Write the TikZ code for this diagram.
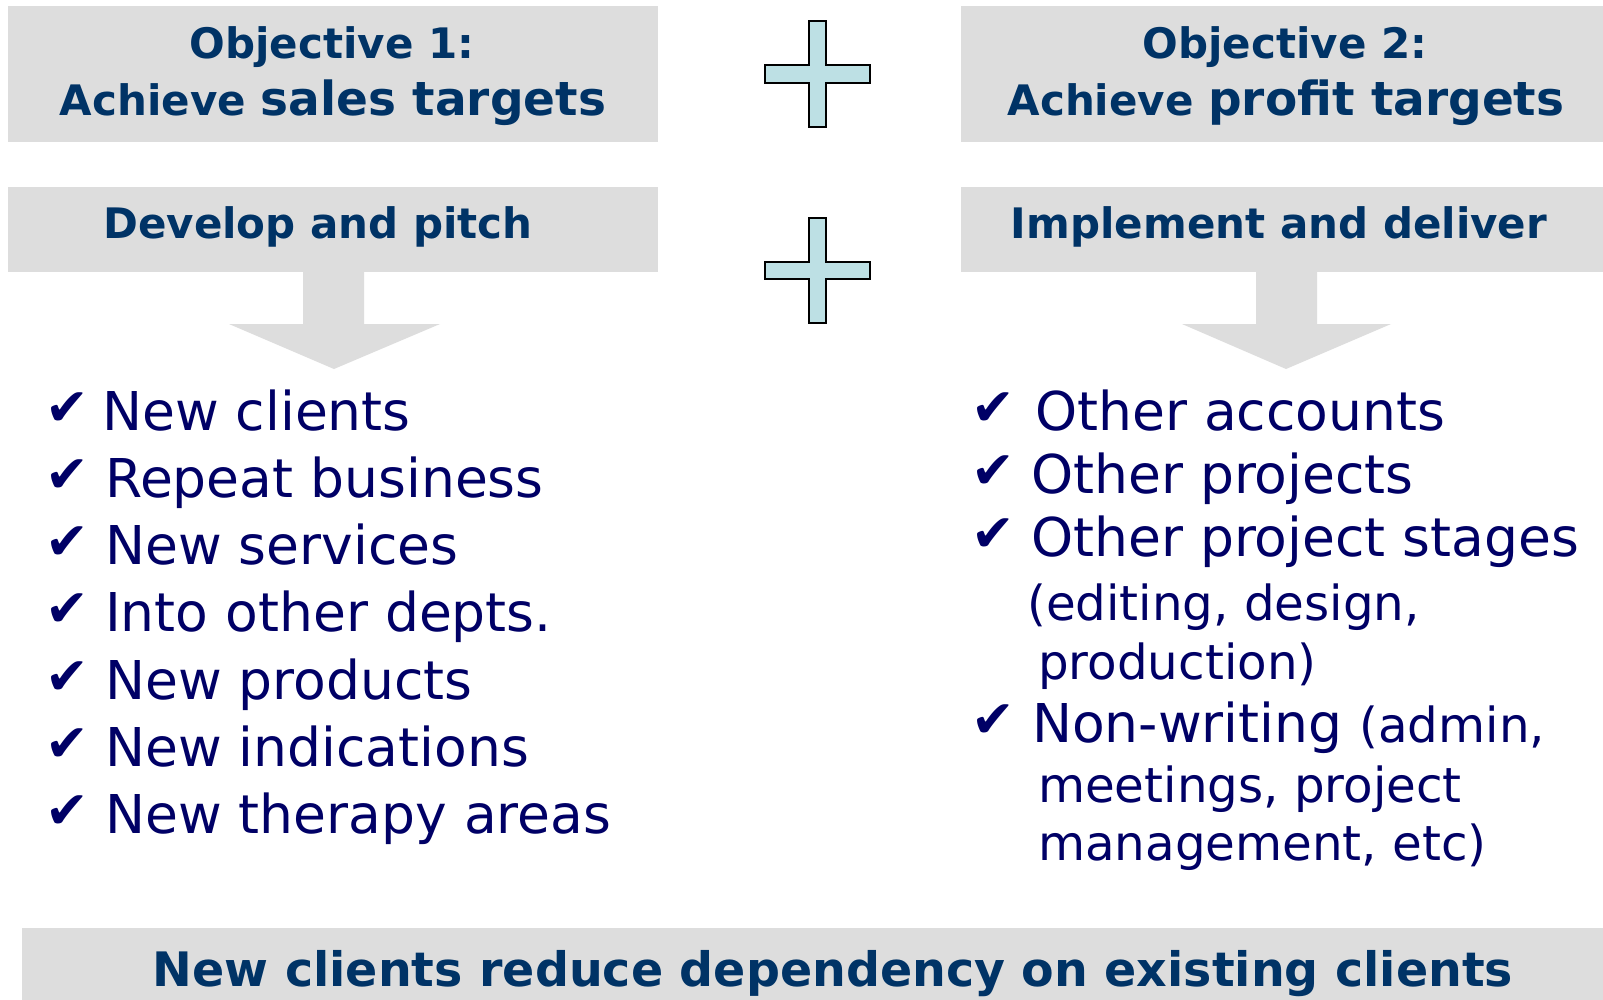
\documentclass[tikz,border=0pt]{standalone}
\usepackage{fontspec}
\setmainfont{DejaVu Sans}
\definecolor{boxgray}{RGB}{221,221,221}
\definecolor{titleblue}{RGB}{0,51,102}
\definecolor{listblue}{RGB}{0,0,102}
\definecolor{plusfill}{RGB}{189,224,228}
\tikzset{
  graybox/.style={fill=boxgray,draw=none},
  ttl/.style={font=\bfseries\fontsize{42}{50}\selectfont,text=titleblue,inner sep=0pt,anchor=base},
  item/.style={font=\fontsize{53.5}{62}\selectfont,text=listblue,inner sep=0pt,anchor=base west},
  sub/.style={font=\fontsize{48.3}{56}\selectfont,text=listblue,inner sep=0pt,anchor=base west},
  tick/.style={font=\fontsize{52}{60}\selectfont,text=listblue,inner sep=0pt,anchor=base west},
  plusshape/.style={fill=plusfill,draw=black,line width=1.6pt,line join=miter},
  arrowshape/.style={fill=boxgray,draw=none}
}
\newcommand{\bigpart}[1]{{\fontsize{47}{56}\selectfont #1}}
\newcommand{\smallpart}[1]{{\fontsize{48.3}{56}\selectfont #1}}
\begin{document}
\begin{tikzpicture}[x=1pt,y=-1pt]
\useasboundingbox (0,0) rectangle (1603,999);
\fill[white] (0,0) rectangle (1603,999);
% boxes
\node[graybox,minimum width=650pt,minimum height=136pt,inner sep=0pt] (b1) at (333,74) {};
\node[graybox,minimum width=680pt,minimum height=136pt,inner sep=0pt] (b2) at (1301,74) {};
\node[graybox,minimum width=650pt,minimum height=85pt,inner sep=0pt] (b3) at (333,229.5) {};
\node[graybox,minimum width=680pt,minimum height=85pt,inner sep=0pt] (b4) at (1301,229.5) {};
\node[graybox,minimum width=1622pt,minimum height=72pt,inner sep=0pt,anchor=north west] (b5) at (22,928) {};
% titles
\node[ttl] (o1a) at (332,58) {Objective 1:};
\node[ttl] (o1b) at (333,115) {Achieve \bigpart{sales targets}};
\node[ttl] (o2a) at (1285,58) {Objective 2:};
\node[ttl] (o2b) at (1286,115) {Achieve \bigpart{profit targets}};
\node[ttl] (dp) at (318,238) {Develop and pitch};
\node[ttl] (id) at (1279,238) {Implement and deliver};
\node[ttl,font=\bfseries\fontsize{47.5}{56}\selectfont] (bot) at (833,986) {New clients reduce dependency on existing clients};
% plus signs
\draw[plusshape] (809,21) -- (826,21) -- (826,65) -- (870,65) -- (870,83) -- (826,83) -- (826,127) -- (809,127) -- (809,83) -- (765,83) -- (765,65) -- (809,65) -- cycle;
\draw[plusshape] (809,218) -- (826,218) -- (826,262) -- (870,262) -- (870,279) -- (826,279) -- (826,323) -- (809,323) -- (809,279) -- (765,279) -- (765,262) -- (809,262) -- cycle;
% down arrows
\fill[arrowshape] (303,272) -- (364,272) -- (364,324) -- (440,324) -- (334,369) -- (229,324) -- (303,324) -- cycle;
\fill[arrowshape] (1256,272) -- (1317,272) -- (1317,324) -- (1391,324) -- (1286,369) -- (1182,324) -- (1256,324) -- cycle;
% left list
\node[tick] (lt1) at (45,425) {✔};
\node[item] (l1) at (102,430) {New clients};
\node[tick] (lt2) at (45,492) {✔};
\node[item] (l2) at (105,497) {Repeat business};
\node[tick] (lt3) at (45,559) {✔};
\node[item] (l3) at (105,564) {New services};
\node[tick] (lt4) at (45,626) {✔};
\node[item] (l4) at (105,631) {Into other depts.};
\node[tick] (lt5) at (45,694) {✔};
\node[item] (l5) at (105,699) {New products};
\node[tick] (lt6) at (45,761) {✔};
\node[item] (l6) at (105,766) {New indications};
\node[tick] (lt7) at (45,828) {✔};
\node[item] (l7) at (105,833) {New therapy areas};
% right list
\node[tick] (rt1) at (971,425) {✔};
\node[item] (r1) at (1035,430) {Other accounts};
\node[tick] (rt2) at (971,488) {✔};
\node[item] (r2) at (1031,493) {Other projects};
\node[tick] (rt3) at (971,551) {✔};
\node[item] (r3) at (1031,556) {Other project stages};
\node[sub] (r3b) at (1027,620) {(editing, design,};
\node[sub] (r3c) at (1038,679) {production)};
\node[tick] (rt4) at (971,737) {✔};
\node[item] (r4) at (1032,742) {Non-writing \smallpart{(admin,}};
\node[sub] (r4b) at (1038,802) {meetings, project};
\node[sub] (r4c) at (1038,860) {management, etc)};
\end{tikzpicture}
\end{document}
